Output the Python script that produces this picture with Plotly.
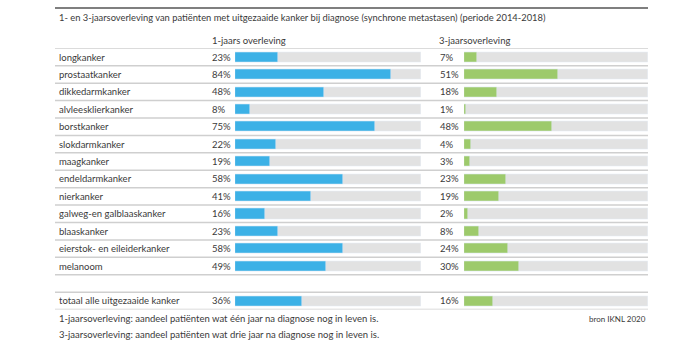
import plotly.graph_objects as go

categories = ["longkanker", "prostaatkanker", "dikkedarmkanker", "alvleesklierkanker",
              "borstkanker", "slokdarmkanker", "maagkanker", "endeldarmkanker",
              "nierkanker", "galweg-en galblaaskanker", "blaaskanker",
              "eierstok- en eileiderkanker", "melanoom"]
one_year = [23, 84, 48, 8, 75, 22, 19, 58, 41, 16, 23, 58, 49]
three_year = [7, 51, 18, 1, 48, 4, 3, 23, 19, 2, 8, 24, 30]
total_label = "totaal alle uitgezaaide kanker"
total_one = 36
total_three = 16

title = "1- en 3-jaarsoverleving van patiënten met uitgezaaide kanker bij diagnose (synchrone metastasen) (periode 2014-2018)"
header1 = "1-jaars overleving"
header3 = "3-jaarsoverleving"
foot1 = "1-jaarsoverleving: aandeel patiënten wat één jaar na diagnose nog in leven is."
foot3 = "3-jaarsoverleving: aandeel patiënten wat drie jaar na diagnose nog in leven is."
source = "bron IKNL 2020"

W, H = 700, 350
FONT = "Lato"
TXT = "#3a3a3a"
BLUE = "#3cb1e6"
GREEN = "#9dca6b"
GREY = "#e2e2e2"
SEP = "#cfcfcf"

labels = categories + [total_label]
v1 = one_year + [total_one]
v3 = three_year + [total_three]
ypos = list(range(len(categories))) + [len(categories) + 1]
nrows = len(categories) + 2

def px(x):
    return x / W

def py(y):
    return 1 - y / H

fig = go.Figure()
bw = 0.58
for xa, ya, vals, col in [("x", "y", v1, BLUE), ("x2", "y2", v3, GREEN)]:
    fig.add_trace(go.Bar(x=[100] * len(vals), y=ypos, orientation="h", marker_color=GREY,
                         width=bw, xaxis=xa, yaxis=ya, hoverinfo="skip", showlegend=False))
    fig.add_trace(go.Bar(x=vals, y=ypos, orientation="h", marker_color=col,
                         width=bw, xaxis=xa, yaxis=ya, showlegend=False))

ydom = [py(309.6), py(48.3)]
yr = [nrows - 0.5, -0.5]
fig.update_layout(
    width=W, height=H, margin=dict(l=0, r=0, t=0, b=0),
    paper_bgcolor="white", plot_bgcolor="rgba(0,0,0,0)",
    barmode="overlay", bargap=0,
    font=dict(family=FONT, size=9.5, color=TXT),
    xaxis=dict(domain=[px(235), px(421)], range=[0, 100], visible=False, fixedrange=True),
    xaxis2=dict(domain=[px(464), px(648)], range=[0, 100], visible=False, fixedrange=True),
    yaxis=dict(domain=ydom, range=yr, visible=False),
    yaxis2=dict(domain=ydom, range=yr, visible=False, anchor="x2"),
)

ann = []
for lab, y, a, b in zip(labels, ypos, v1, v3):
    ann.append(dict(x=px(57), y=y, xref="paper", yref="y", text=lab, xanchor="left",
                    yanchor="middle", showarrow=False))
    ann.append(dict(x=px(210), y=y, xref="paper", yref="y", text=f"{a}%", xanchor="left",
                    yanchor="middle", showarrow=False))
    ann.append(dict(x=px(438), y=y, xref="paper", yref="y", text=f"{b}%", xanchor="left",
                    yanchor="middle", showarrow=False))
ann.append(dict(x=px(57), y=py(18), xref="paper", yref="paper", text=title, xanchor="left",
                yanchor="middle", showarrow=False, font=dict(size=9.35)))
ann.append(dict(x=px(210), y=py(41), xref="paper", yref="paper", text=header1, xanchor="left",
                yanchor="middle", showarrow=False))
ann.append(dict(x=px(437), y=py(41), xref="paper", yref="paper", text=header3, xanchor="left",
                yanchor="middle", showarrow=False))
ann.append(dict(x=px(57), y=py(318), xref="paper", yref="paper", text=foot1, xanchor="left",
                yanchor="middle", showarrow=False))
ann.append(dict(x=px(57), y=py(334), xref="paper", yref="paper", text=foot3, xanchor="left",
                yanchor="middle", showarrow=False))
ann.append(dict(x=px(648), y=py(319), xref="paper", yref="paper", text=source, xanchor="right",
                yanchor="middle", showarrow=False, font=dict(size=8)))
fig.update_layout(annotations=ann)

shapes = [dict(type="line", xref="paper", yref="paper", x0=px(55), x1=px(648),
               y0=py(8), y1=py(8), line=dict(color="#555555", width=1.5))]
seps = [i - 0.5 for i in range(len(categories) + 1)] + [ypos[-1] - 0.5, ypos[-1] + 0.5]
for s in seps:
    shapes.append(dict(type="line", xref="paper", yref="y", x0=px(55), x1=px(648),
                       y0=s, y1=s, line=dict(color=SEP, width=1.5), layer="below"))
fig.update_layout(shapes=shapes)

fig.write_html("out.html")
